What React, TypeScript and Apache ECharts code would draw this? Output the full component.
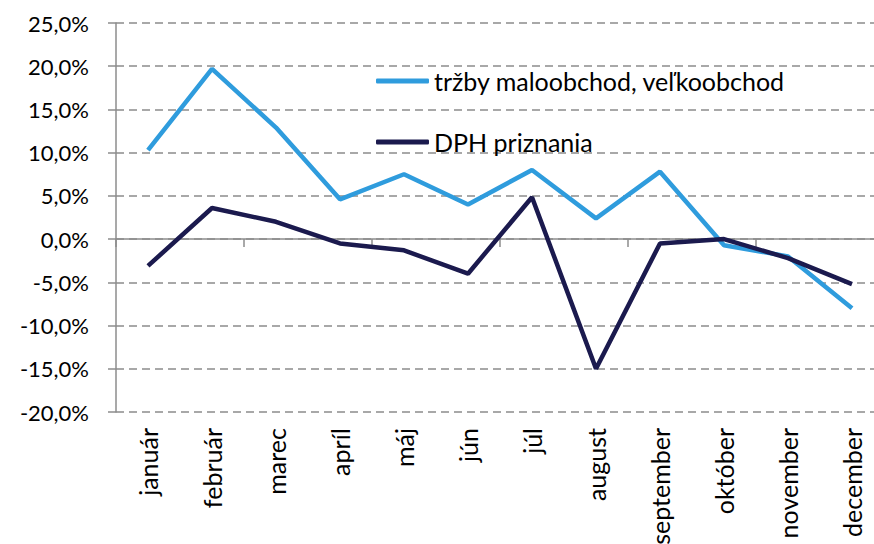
import React, { useEffect, useRef } from "react";
import * as echarts from "echarts";

const months = ["január", "február", "marec", "apríl", "máj", "jún", "júl", "august", "september", "október", "november", "december"];
const trzby = [10.3, 19.7, 12.9, 4.6, 7.5, 4.0, 8.0, 2.4, 7.8, -0.7, -2.0, -8.0];
const dph = [-3.1, 3.6, 2.0, -0.5, -1.3, -4.0, 4.85, -15.0, -0.5, 0.0, -2.2, -5.2];
const seriesNames = ["tržby maloobchod, veľkoobchod", "DPH priznania"];
const yMin = -20;
const yMax = 25;
const yStep = 5;

const FONT = "Lato";
const GRID_COLOR = "#8c8c8c";

export default function App() {
  const ref = useRef<HTMLDivElement>(null);
  useEffect(() => {
    if (!ref.current) return;
    const chart = echarts.init(ref.current, null, { renderer: "svg" });
    chart.setOption({
      animation: false,
      backgroundColor: "#ffffff",
      textStyle: { fontFamily: FONT },
      grid: { left: 116, right: -10, top: 23, bottom: 132, containLabel: false, outerBoundsMode: "none" },
      legend: {
        orient: "vertical",
        left: 371,
        top: 62,
        itemWidth: 53,
        itemHeight: 5,
        itemGap: 33,
        icon: "roundRect",
        textStyle: { fontFamily: FONT, fontSize: 25, color: "#000", lineHeight: 28 },
        data: seriesNames,
      },
      xAxis: [
        {
          type: "category",
          data: months,
          position: "bottom",
          axisLine: { show: false, onZero: false },
          axisTick: { show: false },
          axisLabel: {
            rotate: 90,
            margin: 16,
            fontFamily: FONT,
            fontSize: 25,
            color: "#000",
            interval: 0,
          },
          splitLine: { show: false },
        },
        {
          type: "category",
          data: months,
          position: "bottom",
          axisLine: { show: true, onZero: true, lineStyle: { color: GRID_COLOR, width: 1.5 } },
          axisTick: { show: true, inside: false, length: 8, lineStyle: { color: GRID_COLOR, width: 1.5 } },
          axisLabel: { show: false },
          splitLine: { show: false },
        },
      ],
      yAxis: {
        type: "value",
        min: yMin,
        max: yMax,
        interval: yStep,
        axisLine: { show: true, lineStyle: { color: GRID_COLOR, width: 1.5 } },
        axisTick: { show: true, length: 8, lineStyle: { color: GRID_COLOR, width: 1.5 } },
        axisLabel: {
          margin: 27,
          fontFamily: FONT,
          fontSize: 22,
          color: "#000",
          formatter: (v: number) => v.toFixed(1).replace(".", ",") + "%",
        },
        splitLine: { show: true, lineStyle: { color: GRID_COLOR, width: 1.5, type: [8, 5] } },
      },
      series: [
        {
          name: seriesNames[0],
          type: "line",
          xAxisIndex: 0,
          data: trzby,
          symbol: "none",
          color: "#2f9cdd",
          lineStyle: { width: 4.5, color: "#2f9cdd" },
        },
        {
          name: seriesNames[1],
          type: "line",
          xAxisIndex: 0,
          data: dph,
          symbol: "none",
          color: "#1b1a4e",
          lineStyle: { width: 4.5, color: "#1b1a4e" },
        },
      ],
    });
    return () => chart.dispose();
  }, []);
  return (
    <div
      ref={ref}
      style={{ position: "fixed", left: 0, top: 0, width: 874, height: 544, background: "#fff" }}
    />
  );
}
